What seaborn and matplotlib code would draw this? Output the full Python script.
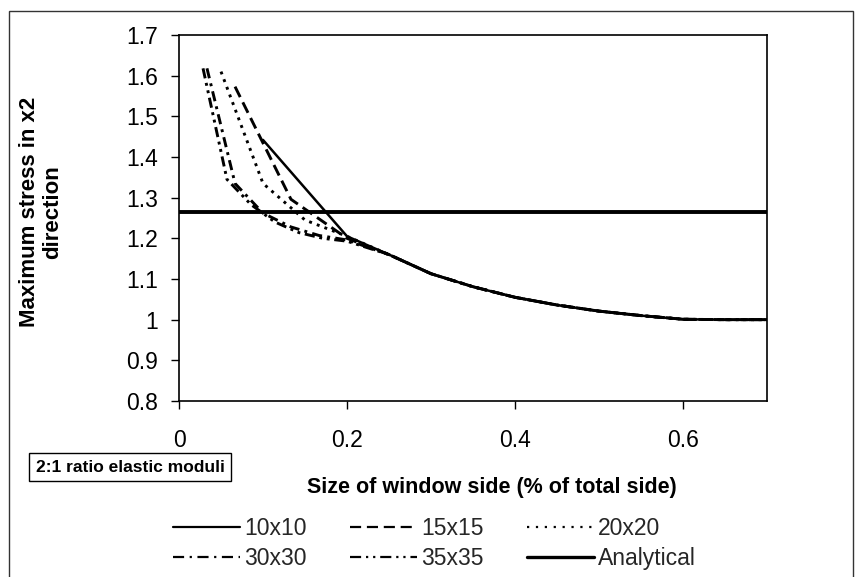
import numpy as np
import pandas as pd
import matplotlib
matplotlib.use("Agg")
import matplotlib.pyplot as plt
from matplotlib.patches import Rectangle
from matplotlib.lines import Line2D
import seaborn as sns

# ---- data ----
x_10 = [0.1, 0.2]
y_10 = [1.442, 1.205]
x_15 = [0.0667, 0.1333, 0.2]
y_15 = [1.573, 1.296, 1.200]
x_20 = [0.05, 0.1, 0.15, 0.2]
y_20 = [1.610, 1.335, 1.245, 1.205]
x_30 = [0.0333, 0.0667, 0.1, 0.1333, 0.1667, 0.2]
y_30 = [1.618, 1.335, 1.262, 1.228, 1.207, 1.196]
x_35 = [0.0286, 0.0571, 0.0857, 0.1143, 0.1429, 0.1714, 0.2]
y_35 = [1.618, 1.345, 1.283, 1.240, 1.214, 1.200, 1.193]
tail_x = [0.25, 0.3, 0.35, 0.4, 0.45, 0.5, 0.55, 0.6, 0.65, 0.7]
tail_y = [1.160, 1.113, 1.081, 1.055, 1.036, 1.021, 1.010, 1.001, 1.000, 1.000]
analytical_x = [0.0, 0.7]
analytical_y = [1.264, 1.264]

series_names = ["10x10", "15x15", "20x20", "30x30", "35x35", "Analytical"]
x_ticks = [0, 0.2, 0.4, 0.6]
x_ticklabels = ["0", "0.2", "0.4", "0.6"]
y_ticks = [0.8, 0.9, 1.0, 1.1, 1.2, 1.3, 1.4, 1.5, 1.6, 1.7]
y_ticklabels = ["0.8", "0.9", "1", "1.1", "1.2", "1.3", "1.4", "1.5", "1.6", "1.7"]

sns.set_theme(style="white")
plt.rcParams["font.family"] = ["Liberation Sans", "DejaVu Sans"]

fig = plt.figure(figsize=(8.55, 5.77), dpi=100)
ax = fig.add_axes([179 / 855, 1 - 401 / 577, (767 - 179) / 855, (401 - 35) / 577])

styles = {
    "10x10": dict(linestyle="-", lw=1.8),
    "15x15": dict(linestyle=(0, (4.0, 2.0)), lw=2.1),
    "20x20": dict(linestyle=(0, (1.0, 1.8)), lw=2.1),
    "30x30": dict(linestyle=(0, (3.5, 1.8, 1.0, 1.8)), lw=2.1),
    "35x35": dict(linestyle=(0, (3.5, 1.6, 1.0, 1.6, 1.0, 1.6)), lw=2.1),
    "Analytical": dict(linestyle="-", lw=2.8),
}
legend_styles = {
    "10x10": dict(linestyle="-", lw=1.6),
    "15x15": dict(linestyle=(0, (5.0, 2.6)), lw=1.6),
    "20x20": dict(linestyle=(0, (1.0, 3.0)), lw=1.6),
    "30x30": dict(linestyle=(0, (5.0, 2.5, 1.0, 2.5)), lw=1.6),
    "35x35": dict(linestyle=(0, (5.0, 2.2, 1.0, 2.2, 1.0, 2.2)), lw=1.6),
    "Analytical": dict(linestyle="-", lw=2.4),
}
data = {
    "10x10": (x_10 + tail_x, y_10 + tail_y),
    "15x15": (x_15 + tail_x, y_15 + tail_y),
    "20x20": (x_20 + tail_x, y_20 + tail_y),
    "30x30": (x_30 + tail_x, y_30 + tail_y),
    "35x35": (x_35 + tail_x, y_35 + tail_y),
    "Analytical": (analytical_x, analytical_y),
}

for name in series_names:
    xs, ys = data[name]
    df = pd.DataFrame({"x": xs, "y": ys})
    sns.lineplot(data=df, x="x", y="y", ax=ax, color="black", sort=False,
                 estimator=None, **styles[name])

ax.set_xlim(0, 0.7)
ax.set_ylim(0.8, 1.7)
ax.set_xticks(x_ticks)
ax.set_xticklabels(x_ticklabels)
ax.set_yticks(y_ticks)
ax.set_yticklabels(y_ticklabels)
ax.tick_params(axis="both", direction="out", length=6, width=1.0, colors="black",
               labelsize=16.5)
ax.tick_params(axis="x", pad=14)
ax.tick_params(axis="y", pad=9)
ax.xaxis.set_ticks_position("bottom")
ax.yaxis.set_ticks_position("left")
for s in ax.spines.values():
    s.set_visible(True)
    s.set_color("black")
    s.set_linewidth(1.2)
ax.set_xlabel("")
ax.set_ylabel("")

# y label
fig.text(41 / 855, 1 - 212 / 577, "Maximum stress in x2\ndirection", rotation=90,
         ha="center", va="center", fontsize=16, fontweight="bold",
         linespacing=1.1, color="black")
# x label
fig.text(492 / 855, 1 - 487 / 577, "Size of window side (% of total side)",
         ha="center", va="center", fontsize=15.5, fontweight="bold", color="black")
# annotation box
fig.text(36 / 855, 1 - 467 / 577, "2:1 ratio elastic moduli", ha="left", va="center",
         fontsize=12.5, fontweight="bold", color="black",
         bbox=dict(boxstyle="square,pad=0.38", fc="white", ec="black", lw=1.0))

# legend
order = ["10x10", "30x30", "15x15", "35x35", "20x20", "Analytical"]
handles = [Line2D([0], [0], color="black", **legend_styles[n]) for n in order]
fig.legend(handles, order, ncol=3, frameon=False,
           loc="upper left", bbox_to_anchor=(164 / 855, 1 - 508 / 577),
           fontsize=16.5, handlelength=2.9, handletextpad=0.2, columnspacing=1.9,
           labelspacing=0.3, borderaxespad=0)

# outer chart border
fig.add_artist(Rectangle((9 / 855, -0.02), (853 - 9) / 855, (577 - 11) / 577 + 0.02,
                         transform=fig.transFigure, fill=False, ec="#333333", lw=1.0))

fig.savefig("out.png", dpi=100)
